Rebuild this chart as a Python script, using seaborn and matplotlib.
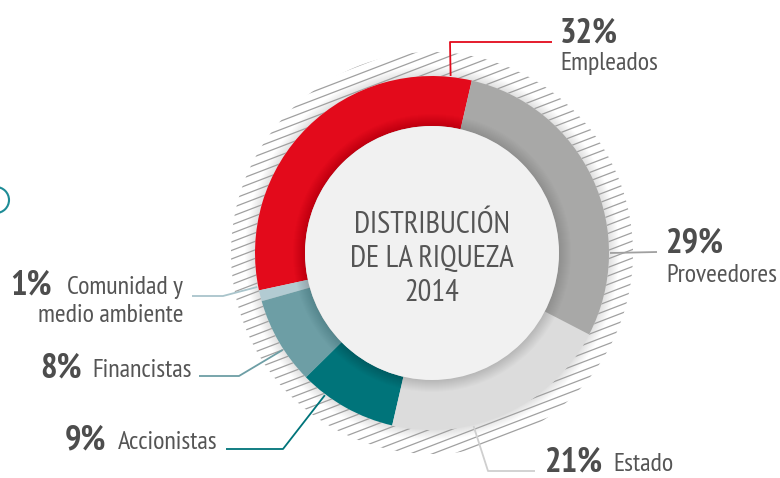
import numpy as np
import matplotlib
matplotlib.use("Agg")
import matplotlib.pyplot as plt
from matplotlib.patches import Circle, Wedge
from matplotlib.collections import LineCollection
import seaborn as sns

# ---------------------------------------------------------
# Data: wealth distribution 2014 (counter-clockwise from the top)
labels = ["Empleados", "Comunidad y\nmedio ambiente", "Financistas", "Accionistas", "Estado", "Proveedores"]
shares = [32, 1, 8, 9, 21, 29]
colors = ["#E30A1B", "#B2CBD2", "#6D9EA5", "#00747A", "#DCDCDC", "#A8A8A7"]
line_colors = ["#E30A1B", "#A9C4CB", "#6D9EA5", "#00747A", "#CFCFCF", "#A0A0A0"]
title_lines = ["DISTRIBUCIÓN", "DE LA RIQUEZA", "2014"]

sns.set_theme(style="white")
plt.rcParams['font.family'] = ['PT Sans Narrow', 'DejaVu Sans']

W, H = 780, 478
fig = plt.figure(figsize=(W / 100, H / 100), dpi=100)
ax = fig.add_axes([0, 0, 1, 1])

cx, cy = 432, H - 253
r_out, r_in = 177, 127


def Y(y):
    # image rows -> data y
    return H - y


# soft shadow just outside the ring
for k in range(10):
    ax.add_patch(Circle((cx, cy), r_out + 10 - k, color="black", alpha=0.012, lw=0, zorder=1))

# hatched band around the ring
band = Wedge((cx, cy), r_out + 24, 0, 360, width=24, transform=ax.transData)
slope = np.tan(np.radians(21))
xs = np.array([cx - 260, cx + 260])
segs = [np.column_stack([xs, cy + slope * (xs - cx) + c]) for c in np.arange(-320, 320, 8.5)]
hatch = LineCollection(segs, colors="#A0A0A0", linewidths=0.9, zorder=2)
hatch.set_clip_path(band)
ax.add_collection(hatch)

# donut
ax.pie(shares, colors=colors, startangle=77, counterclock=True, radius=r_out,
       center=(cx, cy), wedgeprops=dict(width=r_out - r_in, linewidth=0, zorder=3))

# shadow of the centre disc on the ring
for k in range(12):
    ax.add_patch(Circle((cx, cy), r_in + 12 - k, color="black", alpha=0.012, lw=0, zorder=4))
ax.add_patch(Circle((cx, cy), r_in, color="#F1F1F1", lw=0, zorder=5))

for i, t in enumerate(title_lines):
    ax.text(cx, Y(233 + 34 * i), t, ha="center", va="baseline", fontsize=22,
            color="#555555", zorder=6)

# leader lines: anchor angle on the ring, then elbow and end point (image px)
anchors = [84, 191, 213, 233, -76.5, 0]
elbows = [(450, 42), (223, 296), (239, 376), (283, 449), (488, 471), (657, 252)]
ends = [(552, 42), (192, 296), (199, 376), (226, 449), (535, 471), (657, 252)]
for a, (ex, ey), (fx, fy), lc in zip(anchors, elbows, ends, line_colors):
    sx = cx + (r_out + 1) * np.cos(np.radians(a))
    sy = cy + (r_out + 1) * np.sin(np.radians(a))
    ax.plot([sx, ex, fx], [sy, Y(ey), Y(fy)], color=lc, lw=1.3, zorder=6,
            solid_capstyle="butt")

pct_kw = dict(fontsize=25, fontweight="bold", color="#4D4D4D", va="baseline", zorder=7)
name_kw = dict(fontsize=18.7, color="#555555", va="baseline", zorder=7)

# right side labels (stacked)
ax.text(560, Y(42), f"{shares[0]}%", ha="left", **pct_kw)
ax.text(560, Y(70), labels[0], ha="left", **name_kw)
ax.text(666, Y(252), f"{shares[5]}%", ha="left", **pct_kw)
ax.text(666, Y(282), labels[5], ha="left", **name_kw)
ax.text(545, Y(471), f"{shares[4]}%", ha="left", **pct_kw)
ax.text(613, Y(471), labels[4], ha="left", **name_kw)

# left side labels (inline)
ax.text(52, Y(294), f"{shares[1]}%", ha="right", **pct_kw)
ax.text(183, Y(294), labels[1].split("\n")[0], ha="right", **name_kw)
ax.text(183, Y(322), labels[1].split("\n")[1], ha="right", **name_kw)
ax.text(82, Y(377), f"{shares[2]}%", ha="right", **pct_kw)
ax.text(192, Y(377), labels[2], ha="right", **name_kw)
ax.text(106, Y(449), f"{shares[3]}%", ha="right", **pct_kw)
ax.text(217, Y(449), labels[3], ha="right", **name_kw)

# stray ring from the neighbouring graphic at the left edge
ax.add_patch(Circle((-4, Y(200)), 13, fill=False, ec="#1E8C96", lw=1.5, zorder=6))

ax.set_xlim(0, W)
ax.set_ylim(0, H)
ax.set_aspect("equal")
ax.set_axis_off()

plt.savefig("out.png", dpi=100)
plt.close()
